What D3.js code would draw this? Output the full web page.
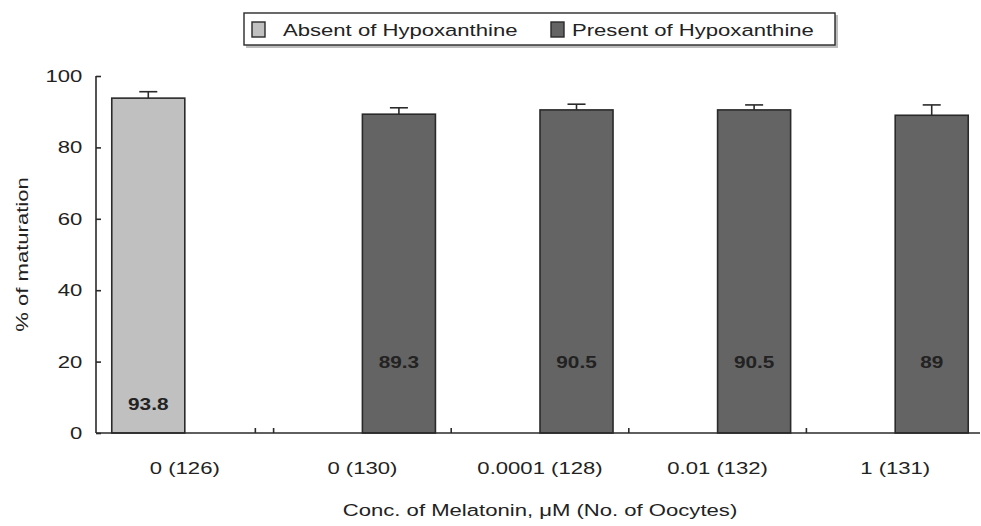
<!DOCTYPE html>
<html>
<head>
<meta charset="utf-8">
<script src="https://cdn.jsdelivr.net/npm/d3@7"></script>
<style>
  html, body { margin: 0; padding: 0; background: #fff; }
  svg { display: block; }
  text { font-family: "Liberation Sans", Arial, sans-serif; fill: #222; }
</style>
</head>
<body>
<div id="chart"></div>
<script>
// Maturation rate by melatonin concentration, with and without hypoxanthine
const categories = ["0 (126)", "0 (130)", "0.0001 (128)", "0.01 (132)", "1 (131)"];
const seriesNames = ["Absent of Hypoxanthine", "Present of Hypoxanthine"];
const absentValues = [93.8, null, null, null, null];
const presentValues = [null, 89.3, 90.5, 90.5, 89];
const absentErrors = [1.8, null, null, null, null];
const presentErrors = [null, 1.8, 1.6, 1.4, 2.9];
const yTicks = [0, 20, 40, 60, 80, 100];

const W = 981, H = 526;
const STRETCH = 1.3;
const colors = { [seriesNames[0]]: "#c0c0c0", [seriesNames[1]]: "#646464" };
const ink = "#2a2a2a";

const svg = d3.select("#chart").append("svg").attr("width", W).attr("height", H);

const plot = { left: 96, right: 984, top: 76, bottom: 433 };

const x = d3.scaleBand().domain(categories).range([plot.left, plot.right]).padding(0);
const xs = d3.scaleBand().domain(seriesNames).range([0, x.bandwidth()])
  .paddingInner(0).paddingOuter(0.216);
const y = d3.scaleLinear().domain([0, 100]).range([plot.bottom, plot.top]);

// horizontally widened text, as in the original typeface
function wideText(parent, tx, ty, str, opts = {}) {
  const rot = opts.rotate ? ` rotate(${opts.rotate})` : "";
  return parent.append("text")
    .attr("transform", `translate(${tx},${ty})${rot} scale(${STRETCH},1)`)
    .attr("text-anchor", opts.anchor || "middle")
    .attr("font-size", opts.size || 17)
    .attr("font-weight", opts.weight || "normal")
    .text(str);
}

// rows of bar data
const rows = [];
categories.forEach((c, i) => {
  if (absentValues[i] != null) rows.push({ cat: c, s: seriesNames[0], v: absentValues[i], e: absentErrors[i], labelAt: 8 });
  if (presentValues[i] != null) rows.push({ cat: c, s: seriesNames[1], v: presentValues[i], e: presentErrors[i], labelAt: 20 });
});

// error bars (upper only)
const eb = svg.append("g").attr("stroke", ink).attr("stroke-width", 1.6);
rows.forEach(d => {
  const cx = x(d.cat) + xs(d.s) + xs.bandwidth() / 2;
  eb.append("line").attr("x1", cx).attr("x2", cx).attr("y1", y(d.v)).attr("y2", y(d.v + d.e));
  eb.append("line").attr("x1", cx - 9).attr("x2", cx + 9).attr("y1", y(d.v + d.e)).attr("y2", y(d.v + d.e));
});

// bars
svg.append("g").selectAll("rect").data(rows).join("rect")
  .attr("x", d => x(d.cat) + xs(d.s))
  .attr("y", d => y(d.v))
  .attr("width", xs.bandwidth())
  .attr("height", d => y(0) - y(d.v))
  .attr("fill", d => colors[d.s])
  .attr("stroke", ink)
  .attr("stroke-width", 1.6);

// value labels
rows.forEach(d => {
  const cx = x(d.cat) + xs(d.s) + xs.bandwidth() / 2;
  wideText(svg, cx, y(d.labelAt) + 6, String(d.v), { weight: "bold", size: 16 });
});

// y axis with inward ticks
const yAxis = svg.append("g").attr("transform", `translate(${plot.left},0)`)
  .call(d3.axisLeft(y).tickValues(yTicks).tickSizeInner(-5).tickSizeOuter(0).tickPadding(11));
yAxis.selectAll("path, line").attr("stroke", ink).attr("stroke-width", 1.6);
yAxis.select(".domain").attr("d", `M0,${plot.top}H0V${plot.bottom}`);
yAxis.selectAll("text")
  .attr("font-size", 17).attr("font-family", "Liberation Sans, Arial, sans-serif").attr("fill", "#222")
  .attr("transform", `scale(${STRETCH},1)`)
  .attr("x", -11 / STRETCH - 2);

// x axis: labels at category centres, ticks at category boundaries
const xAxis = svg.append("g").attr("transform", `translate(0,${plot.bottom})`)
  .call(d3.axisBottom(x).tickSize(0).tickPadding(0));
xAxis.select(".domain").attr("stroke", ink).attr("stroke-width", 1.6)
  .attr("d", `M${plot.left},0H${plot.right - 4}`);
xAxis.selectAll(".tick text").remove();
categories.forEach(c => {
  wideText(svg, x(c) + x.bandwidth() / 2, 474, c, { size: 17 });
});
// boundary ticks, plus the doubled tick just before the first boundary
const tickXs = categories.slice(1).map(c => x(c));
tickXs.unshift(x(categories[1]) - xs.step() / 4);
svg.append("g").attr("stroke", ink).attr("stroke-width", 1.6)
  .selectAll("line").data(tickXs).join("line")
  .attr("x1", d => d).attr("x2", d => d)
  .attr("y1", plot.bottom).attr("y2", plot.bottom - 5);

// axis titles
wideText(svg, (plot.left + plot.right) / 2 + 0, 516, "Conc. of Melatonin, \u03bcM (No. of Oocytes)", { size: 17 });
wideText(svg, 28, (plot.top + plot.bottom) / 2, "% of maturation", { size: 17, rotate: -90 });

// legend
const lg = svg.append("g");
lg.append("rect").attr("x", 246).attr("y", 15).attr("width", 592).attr("height", 33).attr("fill", "#bdbdbd");
lg.append("rect").attr("x", 244).attr("y", 13).attr("width", 591).attr("height", 32)
  .attr("fill", "#fff").attr("stroke", ink).attr("stroke-width", 1.4);
const legendItems = [
  { name: seriesNames[0], sx: 252, tx: 283 },
  { name: seriesNames[1], sx: 551, tx: 572 }
];
legendItems.forEach(it => {
  lg.append("rect").attr("x", it.sx).attr("y", 22).attr("width", 13).attr("height", 15)
    .attr("fill", colors[it.name]).attr("stroke", ink).attr("stroke-width", 1.4);
  wideText(lg, it.tx, 36, it.name, { anchor: "start", size: 17 });
});
</script>
</body>
</html>
